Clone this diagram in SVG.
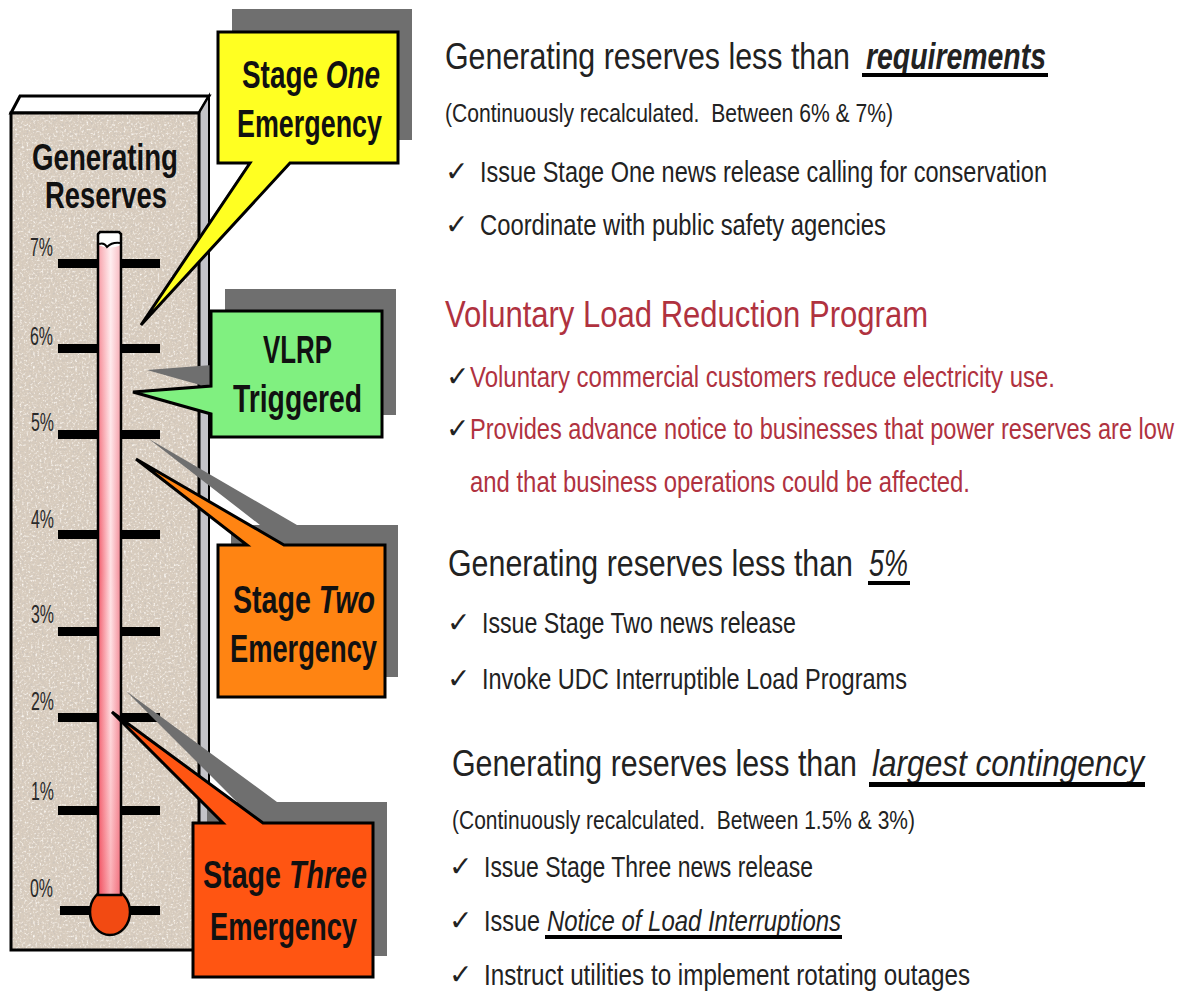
<svg xmlns="http://www.w3.org/2000/svg" width="1184" height="991" viewBox="0 0 1184 991">
  <defs>
    <style>
      .sans { font-family: "Liberation Sans", Arial, sans-serif; }
      .bold { font-family: "Liberation Sans", Arial, sans-serif; font-weight: bold; fill: #111; }
      .pct { font-family: "Liberation Sans", Arial, sans-serif; font-size: 15.9px; fill: #2a2a2a; }
      .dark { fill: #222; }
      .red { fill: #b0323f; }
      .chk { font-family: "DejaVu Sans", sans-serif; font-size: 28px; fill: #222; }
      .callout { stroke: #000; stroke-width: 3; stroke-linejoin: miter; }
      .shadow { fill: #6f6f6f; }
      .tick { fill: #000; }
      .em { font-style: italic; }
    </style>
    <linearGradient id="tubeH" x1="0" y1="0" x2="1" y2="0">
      <stop offset="0" stop-color="#f25868"/>
      <stop offset="0.55" stop-color="#ffe2e5"/>
      <stop offset="1" stop-color="#f38592"/>
    </linearGradient>
    <linearGradient id="tubeV" x1="0" y1="0" x2="0" y2="1">
      <stop offset="0" stop-color="#ffffff" stop-opacity="0.45"/>
      <stop offset="0.5" stop-color="#ffffff" stop-opacity="0"/>
      <stop offset="1" stop-color="#f03040" stop-opacity="0.3"/>
    </linearGradient>
    <!-- speckled stone texture for the board face -->
    <filter id="grain" x="0" y="0" width="100%" height="100%">
      <feTurbulence type="fractalNoise" baseFrequency="0.45" numOctaves="2" seed="4" result="n"/>
      <feColorMatrix in="n" type="matrix" values="0 0 0 0 0.6  0 0 0 0 0.55  0 0 0 0 0.5  3 0 0 0 -1.55" result="dark"/>
      <feColorMatrix in="n" type="matrix" values="0 0 0 0 0.97  0 0 0 0 0.95  0 0 0 0 0.92  -3 0 0 0 1.35" result="light"/>
      <feComposite in="dark" in2="SourceGraphic" operator="in" result="d2"/>
      <feComposite in="light" in2="SourceGraphic" operator="in" result="l2"/>
      <feMerge>
        <feMergeNode in="SourceGraphic"/>
        <feMergeNode in="d2"/>
        <feMergeNode in="l2"/>
      </feMerge>
    </filter>
  </defs>

  <rect x="0" y="0" width="1184" height="991" fill="#ffffff"/>

  <!-- Thermometer board (texts are stretched vertically about their baselines for a condensed face) -->
  <g id="board">
    <polygon points="11,113 20,96 209,96 199,113" fill="#ffffff" stroke="#000" stroke-width="3"/>
    <polygon points="199,113 209,96 209,940 199,950" fill="#c3c3c8" stroke="#000" stroke-width="2"/>
    <rect x="11" y="113" width="188" height="837" fill="#d9cdbf" filter="url(#grain)"/>
    <rect x="11" y="113" width="188" height="837" fill="none" stroke="#000" stroke-width="3"/>
    <text class="bold" x="32" y="170" font-size="27.66" textLength="146" lengthAdjust="spacingAndGlyphs" transform="matrix(1 0 0 1.338 0 -57.46)">Generating</text>
    <text class="bold" x="45" y="208" font-size="27.43" textLength="122" lengthAdjust="spacingAndGlyphs" transform="matrix(1 0 0 1.349 0 -72.59)">Reserves</text>
  </g>

  <!-- Scale: tick bars and percent labels -->
  <g id="scale">
    <rect class="tick" x="58" y="259" width="102" height="9"/>
    <rect class="tick" x="58" y="344" width="102" height="9"/>
    <rect class="tick" x="58" y="430" width="102" height="9"/>
    <rect class="tick" x="58" y="530" width="102" height="9"/>
    <rect class="tick" x="58" y="627" width="102" height="9"/>
    <rect class="tick" x="58" y="713" width="102" height="9"/>
    <rect class="tick" x="58" y="806" width="102" height="9"/>
    <rect class="tick" x="60" y="906" width="100" height="9"/>
    <text class="pct" x="30" y="256" textLength="23" lengthAdjust="spacingAndGlyphs" transform="matrix(1 0 0 1.57 0 -145.92)">7%</text>
    <text class="pct" x="30" y="345" textLength="23" lengthAdjust="spacingAndGlyphs" transform="matrix(1 0 0 1.57 0 -196.65)">6%</text>
    <text class="pct" x="31" y="431" textLength="23" lengthAdjust="spacingAndGlyphs" transform="matrix(1 0 0 1.57 0 -245.67)">5%</text>
    <text class="pct" x="31" y="528" textLength="23" lengthAdjust="spacingAndGlyphs" transform="matrix(1 0 0 1.57 0 -300.96)">4%</text>
    <text class="pct" x="31" y="623" textLength="23" lengthAdjust="spacingAndGlyphs" transform="matrix(1 0 0 1.57 0 -355.11)">3%</text>
    <text class="pct" x="31" y="710" textLength="23" lengthAdjust="spacingAndGlyphs" transform="matrix(1 0 0 1.57 0 -404.7)">2%</text>
    <text class="pct" x="31" y="800" textLength="23" lengthAdjust="spacingAndGlyphs" transform="matrix(1 0 0 1.57 0 -456)">1%</text>
    <text class="pct" x="30" y="897" textLength="23" lengthAdjust="spacingAndGlyphs" transform="matrix(1 0 0 1.57 0 -511.29)">0%</text>
  </g>

  <!-- Thermometer tube and bulb -->
  <g id="thermometer">
    <ellipse cx="110" cy="912" rx="20" ry="23" fill="#f24a12" stroke="#000" stroke-width="2.5"/>
    <rect x="98" y="244" width="23" height="651" fill="url(#tubeH)"/>
    <rect x="98" y="244" width="23" height="651" fill="url(#tubeV)"/>
    <path d="M98,245 V234 L100,232 H119 L121,234 V245 Q110,250 98,245 Z" fill="#ffffff"/>
    <path d="M99,244 Q104,242 107,247 Q112,242 120,243" fill="none" stroke="#000" stroke-width="2"/>
    <path d="M98,895 V234 L100,232 H119 L121,234 V895 Z" fill="none" stroke="#000" stroke-width="2.5"/>
  </g>

  <!-- Stage One callout -->
  <g id="stage-one">
    <path class="shadow" d="M232,9 H412 V140 H304 L155,302 L264,140 H232 Z"/>
    <path class="callout" fill="#ffff22" d="M218,32 H398 V163 H290 L141,325 L250,163 H218 Z"/>
    <text class="bold" x="242" y="88" font-size="27.9" textLength="138" lengthAdjust="spacingAndGlyphs" transform="matrix(1 0 0 1.362 0 -31.86)">Stage <tspan class="em">One</tspan></text>
    <text class="bold" x="237" y="137" font-size="26.95" textLength="145" lengthAdjust="spacingAndGlyphs" transform="matrix(1 0 0 1.41 0 -56.17)">Emergency</text>
  </g>

  <!-- VLRP callout -->
  <g id="vlrp">
    <path class="shadow" d="M225,289 H396 V415 H225 V392 L147,370 L225,364 Z"/>
    <path class="callout" fill="#80f080" d="M211,311 H382 V437 H211 V414 L133,392 L211,386 Z"/>
    <text class="bold" x="263" y="363" font-size="25.87" textLength="69" lengthAdjust="spacingAndGlyphs" transform="matrix(1 0 0 1.469 0 -170.25)">VLRP</text>
    <text class="bold" x="233" y="412" font-size="27.97" textLength="129" lengthAdjust="spacingAndGlyphs" transform="matrix(1 0 0 1.359 0 -147.91)">Triggered</text>
  </g>

  <!-- Stage Two callout -->
  <g id="stage-two">
    <path class="shadow" d="M231,525 H260 L149,439 L297,525 H398 V677 H231 Z"/>
    <path class="callout" fill="#ff8412" d="M218,545 H247 L136,459 L284,545 H385 V697 H218 Z"/>
    <text class="bold" x="233" y="613" font-size="28.4" textLength="142" lengthAdjust="spacingAndGlyphs" transform="matrix(1 0 0 1.338 0 -207.19)">Stage <tspan class="em">Two</tspan></text>
    <text class="bold" x="230" y="662" font-size="27.32" textLength="147" lengthAdjust="spacingAndGlyphs" transform="matrix(1 0 0 1.391 0 -258.84)">Emergency</text>
  </g>

  <!-- Stage Three callout -->
  <g id="stage-three">
    <path class="shadow" d="M207,802 H237 L126,691 L277,802 H387 V956 H207 Z"/>
    <path class="callout" fill="#ff5512" d="M193,823 H223 L112,712 L263,823 H373 V977 H193 Z"/>
    <text class="bold" x="203" y="888" font-size="28.65" textLength="164" lengthAdjust="spacingAndGlyphs" transform="matrix(1 0 0 1.326 0 -289.49)">Stage <tspan class="em">Three</tspan></text>
    <text class="bold" x="210" y="940" font-size="27.32" textLength="147" lengthAdjust="spacingAndGlyphs" transform="matrix(1 0 0 1.391 0 -367.54)">Emergency</text>
  </g>

  <!-- Pointer connectors are drawn as part of each callout outline -->
  <g id="connectors"/>

  <!-- Stage One actions -->
  <g id="text-stage-one">
    <text class="sans dark" x="445" y="69" font-size="30.36" textLength="405" lengthAdjust="spacingAndGlyphs" transform="matrix(1 0 0 1.219 0 -15.11)">Generating reserves less than</text>
    <text class="sans dark em" x="866" y="69" font-size="28.4" font-weight="bold" textLength="180" lengthAdjust="spacingAndGlyphs" transform="matrix(1 0 0 1.303 0 -20.91)">requirements</text>
    <rect x="862" y="73" width="186" height="4" fill="#000"/>
    <text class="sans dark" x="445" y="122" font-size="21.1" textLength="448" lengthAdjust="spacingAndGlyphs" transform="matrix(1 0 0 1.185 0 -22.57)">(Continuously recalculated.&#160; Between 6% &amp; 7%)</text>
    <text class="chk" x="445" y="181">✓</text>
    <text class="sans dark" x="480" y="182" font-size="23.5" textLength="567" lengthAdjust="spacingAndGlyphs" transform="matrix(1 0 0 1.234 0 -42.59)">Issue Stage One news release calling for conservation</text>
    <text class="chk" x="445" y="234">✓</text>
    <text class="sans dark" x="480" y="235" font-size="23.79" textLength="406" lengthAdjust="spacingAndGlyphs" transform="matrix(1 0 0 1.219 0 -51.47)">Coordinate with public safety agencies</text>
  </g>

  <!-- Voluntary Load Reduction Program -->
  <g id="text-vlrp">
    <text class="sans red" x="445" y="327" font-size="30.93" textLength="483" lengthAdjust="spacingAndGlyphs" transform="matrix(1 0 0 1.196 0 -64.09)">Voluntary Load Reduction Program</text>
    <text class="chk red" x="446" y="386">✓</text>
    <text class="sans red" x="470" y="387" font-size="23.93" textLength="585" lengthAdjust="spacingAndGlyphs" transform="matrix(1 0 0 1.212 0 -82.04)">Voluntary commercial customers reduce electricity use.</text>
    <text class="chk red" x="446" y="438">✓</text>
    <text class="sans red" x="470" y="439" font-size="23.59" textLength="704" lengthAdjust="spacingAndGlyphs" transform="matrix(1 0 0 1.229 0 -100.53)">Provides advance notice to businesses that power reserves are low</text>
    <text class="sans red" x="470" y="492" font-size="23.86" textLength="500" lengthAdjust="spacingAndGlyphs" transform="matrix(1 0 0 1.215 0 -105.78)">and that business operations could be affected.</text>
  </g>

  <!-- Stage Two actions -->
  <g id="text-stage-two">
    <text class="sans dark" x="448" y="576" font-size="30.36" textLength="405" lengthAdjust="spacingAndGlyphs" transform="matrix(1 0 0 1.219 0 -126.14)">Generating reserves less than</text>
    <text class="sans dark em" x="869" y="576" font-size="27" textLength="39" lengthAdjust="spacingAndGlyphs" transform="matrix(1 0 0 1.37 0 -213.12)">5%</text>
    <rect x="868" y="581" width="42" height="4" fill="#000"/>
    <text class="chk" x="447" y="632">✓</text>
    <text class="sans dark" x="482" y="633" font-size="23.06" textLength="314" lengthAdjust="spacingAndGlyphs" transform="matrix(1 0 0 1.258 0 -163.31)">Issue Stage Two news release</text>
    <text class="chk" x="447" y="688">✓</text>
    <text class="sans dark" x="482" y="689" font-size="23.53" textLength="425" lengthAdjust="spacingAndGlyphs" transform="matrix(1 0 0 1.232 0 -159.85)">Invoke UDC Interruptible Load Programs</text>
  </g>

  <!-- Stage Three actions -->
  <g id="text-stage-three">
    <text class="sans dark" x="452" y="776" font-size="30.36" textLength="405" lengthAdjust="spacingAndGlyphs" transform="matrix(1 0 0 1.219 0 -169.94)">Generating reserves less than</text>
    <text class="sans dark em" x="872" y="776" font-size="31.57" textLength="272" lengthAdjust="spacingAndGlyphs" transform="matrix(1 0 0 1.172 0 -133.47)">largest contingency</text>
    <rect x="869" y="782" width="276" height="5" fill="#000"/>
    <text class="sans dark" x="452" y="829" font-size="20.98" textLength="463" lengthAdjust="spacingAndGlyphs" transform="matrix(1 0 0 1.19 0 -157.51)">(Continuously recalculated.&#160; Between 1.5% &amp; 3%)</text>
    <text class="chk" x="449" y="876">✓</text>
    <text class="sans dark" x="484" y="877" font-size="22.94" textLength="329" lengthAdjust="spacingAndGlyphs" transform="matrix(1 0 0 1.264 0 -231.53)">Issue Stage Three news release</text>
    <text class="chk" x="449" y="930">✓</text>
    <text class="sans dark" x="484" y="931" font-size="23.4" textLength="56" lengthAdjust="spacingAndGlyphs" transform="matrix(1 0 0 1.238 0 -221.58)">Issue</text>
    <text class="sans dark em" x="547" y="931" font-size="24.95" textLength="294" lengthAdjust="spacingAndGlyphs" transform="matrix(1 0 0 1.162 0 -150.82)">Notice of Load Interruptions</text>
    <rect x="545" y="935" width="297" height="4" fill="#000"/>
    <text class="chk" x="449" y="984">✓</text>
    <text class="sans dark" x="484" y="985" font-size="24.22" textLength="486" lengthAdjust="spacingAndGlyphs" transform="matrix(1 0 0 1.197 0 -194.05)">Instruct utilities to implement rotating outages</text>
  </g>
</svg>
